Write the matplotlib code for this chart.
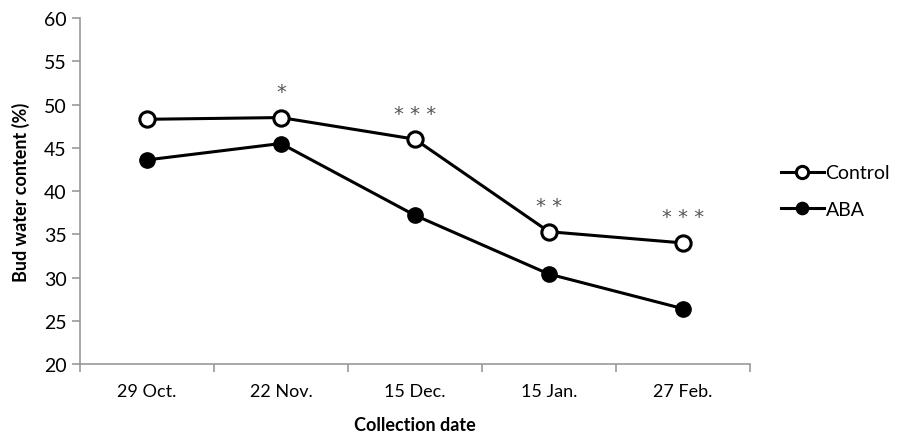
import matplotlib
matplotlib.use("Agg")
import matplotlib.pyplot as plt
import numpy as np

plt.rcParams['font.family'] = ['Lato', 'DejaVu Sans']

fechas = ["29 Oct.", "22 Nov.", "15 Dec.", "15 Jan.", "27 Feb."]
control = [48.3, 48.5, 46.0, 35.3, 34.0]
aba = [43.6, 45.5, 37.2, 30.4, 26.4]
estrellas = ["", "*", "* * *", "* *", "* * *"]

fig = plt.figure(figsize=(8.98, 4.35), dpi=100)
ax = fig.add_axes([0.089, 0.161, 0.746, 0.795])

x = np.arange(len(fechas))
ax.plot(x, control, color="black", lw=2.2, marker="o", ms=11,
        mfc="white", mec="black", mew=2.2, label="Control")
ax.plot(x, aba, color="black", lw=2.2, marker="o", ms=11,
        mfc="black", mec="black", label="ABA")

# asteriscos de significancia sobre la serie control
for i, s in enumerate(estrellas):
    if s:
        ax.text(x[i], control[i] + 1.9, s, ha="center", va="bottom",
                fontsize=14, color="#555555", family="DejaVu Sans")

ax.set_xlim(-0.5, len(fechas) - 0.5)
ax.set_ylim(20, 60)
ax.set_yticks(range(20, 61, 5))
ax.set_xticks(x)
ax.set_xticklabels(fechas)
ax.set_xticks(np.arange(-0.5, len(fechas), 1), minor=True)
ax.tick_params(axis="x", which="major", length=0, pad=14, labelsize=13)
ax.tick_params(axis="x", which="minor", length=6, color="#999999", width=1.2)
ax.tick_params(axis="y", length=6, color="#999999", width=1.2, labelsize=14)

for lado in ["top", "right"]:
    ax.spines[lado].set_visible(False)
for lado in ["left", "bottom"]:
    ax.spines[lado].set_color("#999999")
    ax.spines[lado].set_linewidth(1.2)

ax.set_xlabel("Collection date", fontsize=13, fontweight="bold", labelpad=12)
ax.set_ylabel("Bud water content (%)", fontsize=13, fontweight="bold", labelpad=10)

ax.legend(loc="center left", bbox_to_anchor=(1.02, 0.5), frameon=False,
          fontsize=14, handlelength=2.2, handletextpad=0.1, labelspacing=1.0,
          markerscale=0.8)

fig.savefig("out.png", dpi=100)
